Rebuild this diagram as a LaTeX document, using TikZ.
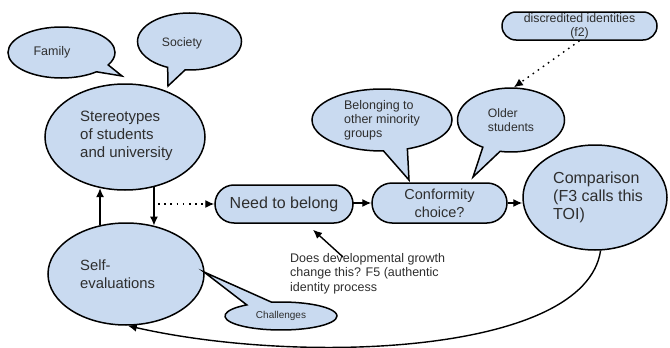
\documentclass[tikz,border=0pt]{standalone}
\usepackage{fontspec}
\setmainfont{Liberation Sans}
\usetikzlibrary{shapes.geometric,shapes.callouts,arrows.meta,calc}
\definecolor{bubfill}{HTML}{C9DAF0}
\definecolor{txt}{HTML}{2E2E2E}
\begin{document}
\begin{tikzpicture}[x=1pt,y=-1pt,
  bub/.style={fill=bubfill, draw=black, line width=1.5pt},
  oval/.style={bub, ellipse, inner sep=0pt},
  talk/.style={bub, ellipse callout, inner sep=0pt, align=left, text=txt, callout pointer arc=20},
  pill/.style={bub, rectangle, align=center, text=txt, inner sep=0pt},
  lbl/.style={align=left, text=txt, inner sep=0pt},
  conn/.style={line width=1.4pt, -{Latex[length=9pt,width=8pt]}},
  dotconn/.style={conn, dash pattern=on 1.6pt off 4.6pt},
]
\useasboundingbox (0,0) rectangle (670,348);

% speech bubbles
\node[talk, minimum width=107pt, minimum height=51pt,
      callout absolute pointer={(122,76)}] (family) at (61.5,52.5) {};
\node[lbl, font=\fontsize{12.5}{14}\selectfont] (familyt) at (52,52) {Family};
\node[talk, minimum width=104pt, minimum height=57pt,
      callout absolute pointer={(168,86)}] (society) at (189.5,41.5) {};
\node[lbl, font=\fontsize{12.2}{14}\selectfont] (societyt) at (182,43) {Society};

% main ovals
\node[oval, minimum width=160pt, minimum height=106pt] (ster) at (125,137) {};
\node[lbl, anchor=north west, font=\fontsize{15}{18}\selectfont] (stert) at (80,111)
  {Stereotypes\\of students\\and university};

\node[oval, minimum width=156pt, minimum height=102pt] (sev) at (126,274) {};
\node[lbl, anchor=north west, font=\fontsize{14.8}{18}\selectfont] (sevt) at (80,260)
  {Self-\\evaluations};

\node[talk, minimum width=112pt, minimum height=28pt, callout pointer arc=28,
      callout absolute pointer={(204,272)}, font=\fontsize{10}{12}\selectfont] (chal) at (281,316) {Challenges};

\node[pill, rounded corners=19pt, minimum width=138pt, minimum height=38pt,
      font=\fontsize{16}{18}\selectfont] (need) at (284,204) {Need to belong};

\node[pill, rounded corners=20pt, minimum width=135pt, minimum height=40pt,
      font=\fontsize{14.5}{18}\selectfont] (conf) at (439.5,203) {Conformity\\choice?};

\node[talk, minimum width=140pt, minimum height=62pt,
      callout absolute pointer={(409,180)}, font=\fontsize{12.5}{14}\selectfont] (belong) at (382,120)
  {Belonging to\\other minority\\groups};
\node[talk, minimum width=107pt, minimum height=64pt,
      callout absolute pointer={(473,177)}, font=\fontsize{12.2}{14}\selectfont] (older) at (511,120)
  {Older\\students};

\node[pill, rounded corners=14pt, minimum width=155pt, minimum height=28pt,
      font=\fontsize{12.3}{14}\selectfont] (disc) at (579.5,26) {discredited identities\\(f2)};

\node[oval, minimum width=144pt, minimum height=105pt] (comp) at (595,197.5) {};
\node[lbl, anchor=north west, font=\fontsize{16}{18}\selectfont] (compt) at (553,171.5)
  {Comparison\\(F3 calls this\\TOI)};

\node[lbl, anchor=north west, font=\fontsize{12.5}{14.5}\selectfont] (does) at (290,253)
  {Does developmental growth\\change this? F5 (authentic\\identity process};

% connectors
\draw[conn] (sev.118) -- (sev.118 |- ster.244);
\draw[conn] (ster.300) -- (ster.300 |- sev.60);
\coordinate (dstart) at (158,204);
\draw[dotconn] (dstart) -- (need.west);
\draw[conn] (need.east) -- (need.east |- conf.west) -- (conf.west);
\draw[conn] (conf.east) -- (conf.east -| comp.west);
\draw[dotconn] (disc.south) -- (older.85);
\coordinate (dq) at (343,257);
\draw[conn] (dq) -- ($(need.south)+(29,6)$);
\draw[conn] (comp.-84) .. controls (585,355) and (300,365) .. (sev.-88);
\end{tikzpicture}
\end{document}
